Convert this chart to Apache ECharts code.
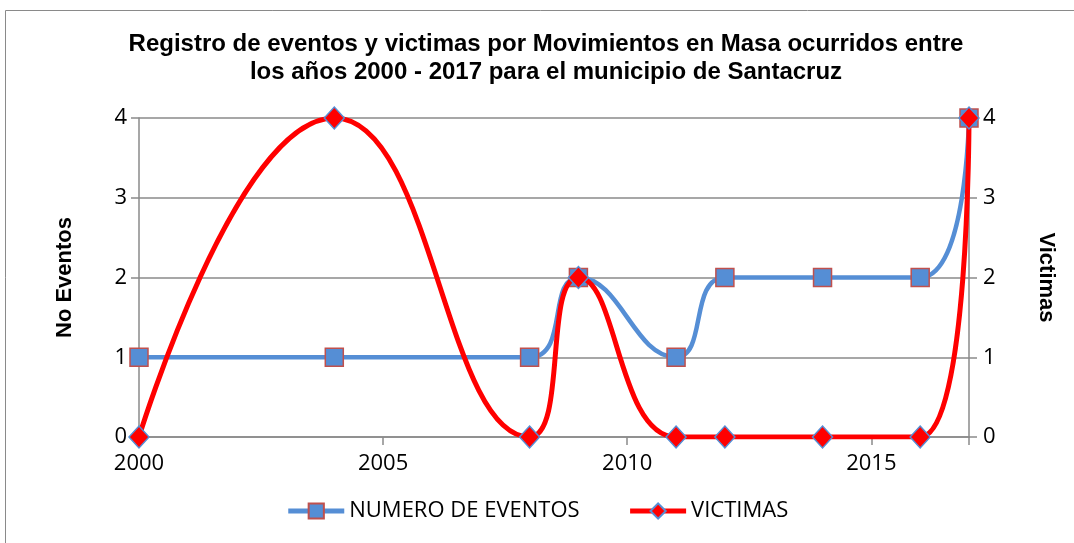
<!DOCTYPE html>
<html>
<head>
<meta charset="utf-8">
<script src="https://cdn.jsdelivr.net/npm/echarts@6/dist/echarts.min.js"></script>
<style>
  html, body { margin: 0; padding: 0; background: #fff; }
  #chart { width: 1074px; height: 543px; }
</style>
</head>
<body>
<div id="chart"></div>
<script>
// años con registro
var years = [2000, 2004, 2008, 2009, 2011, 2012, 2014, 2016, 2017];
var eventos = [1, 1, 1, 2, 1, 2, 2, 2, 4];
var victimas = [0, 4, 0, 2, 0, 0, 0, 0, 4];
var yTicks = [0, 1, 2, 3, 4];

var blue = '#558ED5', red = '#FF0000', brick = '#C0504D';
var labelFont = { color: '#000', fontSize: 22, fontFamily: 'Open Sans, Calibri, sans-serif' };
var nameFont = { fontFamily: 'Liberation Sans, Arial', fontWeight: 'bold', fontSize: 22, color: '#000' };

function pairs(ys) {
  return years.map(function (x, i) { return [x, ys[i]]; });
}

var chart = echarts.init(document.getElementById('chart'));
chart.setOption({
  animation: false,
  title: {
    text: 'Registro de eventos y victimas por Movimientos en Masa ocurridos entre\nlos años 2000 - 2017 para el municipio de Santacruz',
    left: 541, top: 25, textAlign: 'center',
    textStyle: { fontFamily: 'Liberation Sans, Arial', fontWeight: 'bold', fontSize: 24, lineHeight: 28, color: '#000' }
  },
  graphic: [{
    type: 'rect', shape: { x: 5.5, y: 10.5, width: 1100, height: 560 },
    style: { fill: 'none', stroke: '#8a8a8a', lineWidth: 1 }, silent: true
  }],
  legend: {
    bottom: 16, left: 'center', itemGap: 48, itemWidth: 56, itemHeight: 19,
    textStyle: labelFont,
    lineStyle: { width: 5 },
    data: ['NUMERO DE EVENTOS', 'VICTIMAS']
  },
  grid: { left: 139, right: 105, top: 118, bottom: 106 },
  xAxis: {
    type: 'value', min: 2000, max: 2017, interval: 5,
    axisLine: { lineStyle: { color: '#8a8a8a', width: 1.5 } },
    axisTick: { show: true, length: 8, lineStyle: { color: '#8a8a8a', width: 1.5 } },
    axisLabel: Object.assign({ margin: 16, formatter: function (v) { return v % 5 === 0 ? String(v) : ''; } }, labelFont),
    splitLine: { show: false }
  },
  yAxis: [{
    type: 'value', min: yTicks[0], max: yTicks[yTicks.length - 1], interval: 1,
    name: 'No Eventos', nameLocation: 'middle', nameGap: 63, nameRotate: 90,
    nameTextStyle: nameFont,
    axisLine: { show: true, lineStyle: { color: '#8a8a8a', width: 1.5 } },
    axisTick: { show: true, length: 8, lineStyle: { color: '#8a8a8a', width: 1.5 } },
    axisLabel: Object.assign({ margin: 12 }, labelFont),
    splitLine: { lineStyle: { color: '#8a8a8a', width: 1.5 } }
  }, {
    type: 'value', min: yTicks[0], max: yTicks[yTicks.length - 1], interval: 1, position: 'right',
    name: 'Victimas', nameLocation: 'middle', nameGap: 66, nameRotate: -90,
    nameTextStyle: nameFont,
    axisLine: { show: true, lineStyle: { color: '#8a8a8a', width: 1.5 } },
    axisTick: { show: true, length: 8, lineStyle: { color: '#8a8a8a', width: 1.5 } },
    axisLabel: Object.assign({ margin: 14 }, labelFont),
    splitLine: { show: false }
  }],
  series: [{
    name: 'NUMERO DE EVENTOS', type: 'line', yAxisIndex: 0, smooth: 0.5,
    data: pairs(eventos),
    symbol: 'rect', symbolSize: 18,
    lineStyle: { color: blue, width: 4.5 },
    itemStyle: { color: blue, borderColor: brick, borderWidth: 1.5 },
    z: 2
  }, {
    name: 'VICTIMAS', type: 'line', yAxisIndex: 1, smooth: 0.5,
    data: pairs(victimas),
    symbol: 'diamond', symbolSize: [20, 22],
    lineStyle: { color: red, width: 5 },
    itemStyle: { color: red, borderColor: blue, borderWidth: 1.5 },
    z: 3
  }]
});
</script>
</body>
</html>
